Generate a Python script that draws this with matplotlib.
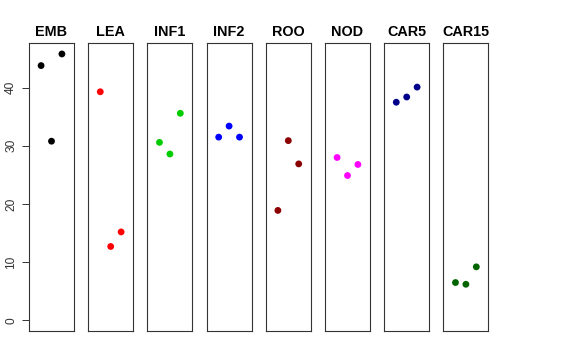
import matplotlib
matplotlib.use("Agg")
import matplotlib.pyplot as plt
import numpy as np

groups = ["EMB", "LEA", "INF1", "INF2", "ROO", "NOD", "CAR5", "CAR15"]
values = {
    "EMB":   [43.8, 30.8, 45.8],
    "LEA":   [39.3, 12.7, 15.2],
    "INF1":  [30.6, 28.6, 35.6],
    "INF2":  [31.5, 33.4, 31.5],
    "ROO":   [18.9, 30.9, 26.9],
    "NOD":   [28.0, 24.9, 26.8],
    "CAR5":  [37.5, 38.4, 40.1],
    "CAR15": [6.5, 6.2, 9.2],
}
colors = ["black", "red", "#00CD00", "blue", "#8B0000", "magenta", "#00008B", "#006400"]
replicates = [1, 2, 3]
yticks = [0, 10, 20, 30, 40]

plt.rcParams['font.family'] = ['Liberation Sans', 'DejaVu Sans']

W, H = 576, 360
fig = plt.figure(figsize=(W / 100, H / 100), dpi=100)

ymax = max(max(v) for v in values.values())
ymin = 0
ext = 0.04 * (ymax - ymin)
xext = 0.04 * 4

left0 = 29.0
step = 59.2
pw = 45.0
top = 43.3
bottom = 331.0

for i, (g, c) in enumerate(zip(groups, colors)):
    l = left0 + i * step
    ax = fig.add_axes([l / W, 1 - bottom / H, pw / W, (bottom - top) / H])
    ax.scatter(replicates, values[g], s=24, color=c, edgecolors='none', zorder=3)
    ax.set_xlim(0 - xext, 4 + xext)
    ax.set_ylim(ymin - ext, ymax + ext)
    ax.set_xticks([])
    for sp in ax.spines.values():
        sp.set_linewidth(0.8)
        sp.set_color('#333333')
    ax.set_title(g, fontsize=10.4, fontweight='bold', pad=5.5)
    if i == 0:
        ax.set_yticks(yticks)
        ax.tick_params(axis='y', length=5, width=0.7, pad=3.5, labelsize=8.6,
                       colors='#333333', labelcolor='#333333', labelrotation=90)
        for lab in ax.get_yticklabels():
            lab.set_va('center')
    else:
        ax.set_yticks([])

fig.savefig("out.png", dpi=100)
